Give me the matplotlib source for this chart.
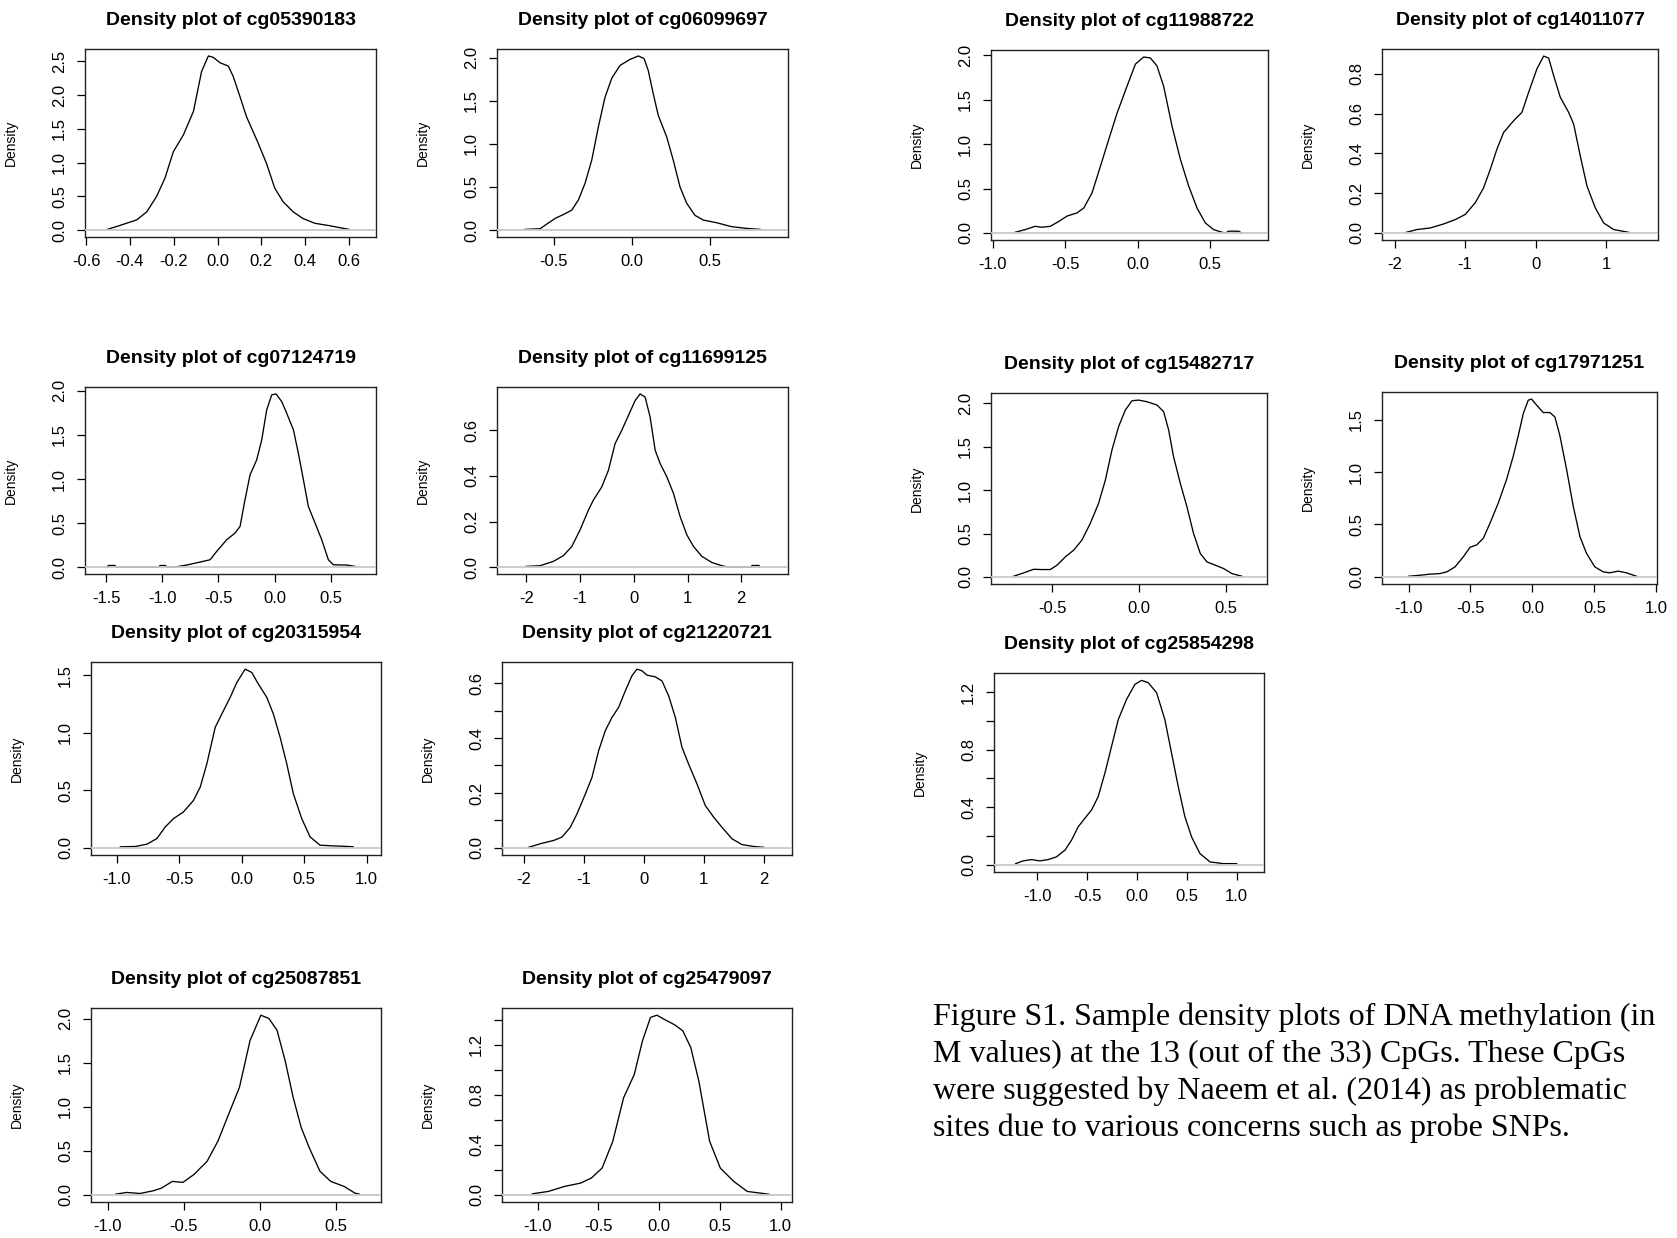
import numpy as np
import matplotlib
matplotlib.use("Agg")
import matplotlib.pyplot as plt

plt.rcParams['font.family'] = ['Liberation Sans', 'DejaVu Sans']

# ---- density curves (x = M value, y = density) ----
cg05390183_x = [-0.503, -0.453, -0.407, -0.369, -0.323, -0.278, -0.24, -0.202, -0.156, -0.110, -0.073, -0.042,
                -0.020, 0.011, 0.049, 0.071, 0.102, 0.132, 0.185, 0.223, 0.261, 0.299, 0.345, 0.390, 0.444,
                0.512, 0.558, 0.6]
cg05390183_y = [0.01, 0.06, 0.11, 0.15, 0.27, 0.50, 0.77, 1.16, 1.41, 1.76, 2.35, 2.58,
                2.56, 2.48, 2.43, 2.28, 1.98, 1.68, 1.29, 0.99, 0.62, 0.42, 0.27, 0.17, 0.10,
                0.064, 0.035, 0.01]

cg06099697_x = [-0.683, -0.587, -0.544, -0.491, -0.438, -0.385, -0.342, -0.300, -0.257, -0.214, -0.172, -0.129,
                -0.076, -0.012, 0.042, 0.078, 0.105, 0.137, 0.169, 0.223, 0.265, 0.308, 0.351, 0.404, 0.457,
                0.542, 0.638, 0.734, 0.82]
cg06099697_y = [0.008, 0.015, 0.07, 0.135, 0.18, 0.23, 0.35, 0.54, 0.81, 1.20, 1.54, 1.76,
                1.91, 1.98, 2.02, 1.99, 1.85, 1.58, 1.33, 1.08, 0.81, 0.50, 0.31, 0.17, 0.116,
                0.085, 0.039, 0.019, 0.008]

cg11988722_x = [-0.844, -0.775, -0.706, -0.660, -0.602, -0.544, -0.487, -0.418, -0.372, -0.315, -0.257, -0.200,
                -0.142, -0.074, -0.016, 0.041, 0.087, 0.133, 0.179, 0.237, 0.294, 0.351, 0.409, 0.466,
                0.523, 0.581, 0.605, 0.627, 0.696, 0.715]
cg11988722_y = [0.008, 0.038, 0.075, 0.064, 0.075, 0.13, 0.19, 0.226, 0.28, 0.45, 0.75, 1.05,
                1.35, 1.65, 1.90, 1.98, 1.97, 1.88, 1.65, 1.20, 0.83, 0.53, 0.28, 0.113,
                0.038, 0.008, 0.0, 0.02, 0.02, 0.0]

cg14011077_x = [-1.834, -1.683, -1.494, -1.305, -1.139, -0.997, -0.855, -0.737, -0.642, -0.548, -0.453, -0.311,
                -0.193, -0.098, 0.020, 0.115, 0.186, 0.257, 0.351, 0.470, 0.541, 0.635, 0.730, 0.848,
                0.967, 1.109, 1.322]
cg14011077_y = [0.003, 0.017, 0.025, 0.045, 0.067, 0.093, 0.152, 0.227, 0.32, 0.421, 0.505, 0.564,
                0.606, 0.707, 0.825, 0.889, 0.879, 0.791, 0.682, 0.606, 0.547, 0.387, 0.236, 0.126,
                0.05, 0.017, 0.003]

cg07124719_x = [-1.49, -1.48, -1.42, -1.41, -1.03, -1.02, -0.97, -0.96,
                -0.871, -0.782, -0.663, -0.574, -0.515, -0.426, -0.352, -0.307, -0.263, -0.218, -0.159, -0.114,
                -0.070, -0.025, 0.013, 0.064, 0.108, 0.168, 0.212, 0.257, 0.301, 0.361, 0.420, 0.479,
                0.524, 0.643, 0.717]
cg07124719_y = [0.0, 0.018, 0.018, 0.0, 0.0, 0.018, 0.018, 0.0,
                0.004, 0.023, 0.057, 0.083, 0.178, 0.31, 0.386, 0.461, 0.764, 1.047, 1.217, 1.444,
                1.784, 1.955, 1.966, 1.879, 1.747, 1.558, 1.293, 0.991, 0.688, 0.499, 0.31, 0.083,
                0.026, 0.023, 0.008]

cg11699125_x = [-2.006, -1.745, -1.497, -1.311, -1.155, -1.0, -0.845, -0.752, -0.596, -0.472, -0.348, -0.224,
                -0.099, 0.025, 0.118, 0.211, 0.304, 0.398, 0.491, 0.615, 0.739, 0.863, 0.988, 1.112,
                1.267, 1.453, 1.64, 1.75, 2.19, 2.2, 2.33, 2.34]
cg11699125_y = [0.003, 0.006, 0.025, 0.05, 0.09, 0.163, 0.25, 0.294, 0.352, 0.425, 0.542, 0.60,
                0.666, 0.731, 0.76, 0.746, 0.658, 0.513, 0.454, 0.396, 0.323, 0.221, 0.141, 0.09,
                0.047, 0.02, 0.006, 0.0, 0.0, 0.007, 0.007, 0.0]

cg15482717_x = [-0.722, -0.665, -0.607, -0.559, -0.511, -0.473, -0.425, -0.377, -0.330, -0.282, -0.234, -0.195,
                -0.157, -0.119, -0.080, -0.042, -0.004, 0.044, 0.102, 0.140, 0.169, 0.197, 0.236, 0.274,
                0.312, 0.351, 0.389, 0.437, 0.485, 0.533, 0.590]
cg15482717_y = [0.008, 0.046, 0.088, 0.085, 0.085, 0.135, 0.231, 0.308, 0.423, 0.615, 0.846, 1.115,
                1.462, 1.731, 1.923, 2.03, 2.038, 2.019, 1.981, 1.904, 1.692, 1.385, 1.077, 0.808,
                0.50, 0.269, 0.173, 0.135, 0.096, 0.038, 0.008]

cg17971251_x = [-1.0, -0.906, -0.826, -0.745, -0.691, -0.624, -0.557, -0.503, -0.45, -0.396, -0.342, -0.275,
                -0.208, -0.154, -0.114, -0.074, -0.034, -0.007, 0.034, 0.087, 0.141, 0.181, 0.221, 0.275,
                0.329, 0.383, 0.436, 0.503, 0.57, 0.624, 0.691, 0.758, 0.839]
cg17971251_y = [0.006, 0.016, 0.026, 0.032, 0.048, 0.096, 0.193, 0.283, 0.305, 0.369, 0.514, 0.707,
                0.932, 1.156, 1.349, 1.558, 1.686, 1.696, 1.638, 1.568, 1.568, 1.526, 1.349, 1.028,
                0.675, 0.385, 0.225, 0.096, 0.048, 0.039, 0.055, 0.039, 0.006]

cg20315954_x = [-0.973, -0.853, -0.76, -0.68, -0.613, -0.547, -0.467, -0.387, -0.333, -0.28, -0.213, -0.147,
                -0.093, -0.04, 0.027, 0.08, 0.133, 0.2, 0.253, 0.307, 0.36, 0.413, 0.48, 0.547,
                0.627, 0.733, 0.813, 0.893]
cg20315954_y = [0.009, 0.012, 0.032, 0.081, 0.182, 0.254, 0.312, 0.412, 0.528, 0.73, 1.047, 1.191,
                1.307, 1.436, 1.552, 1.523, 1.422, 1.307, 1.162, 0.96, 0.73, 0.47, 0.254, 0.095,
                0.023, 0.017, 0.014, 0.009]

cg21220721_x = [-1.922, -1.727, -1.505, -1.366, -1.227, -1.115, -0.976, -0.865, -0.754, -0.643, -0.532, -0.42,
                -0.309, -0.198, -0.114, -0.031, 0.053, 0.192, 0.303, 0.414, 0.526, 0.637, 0.748, 0.887,
                1.026, 1.165, 1.304, 1.471, 1.638, 1.833, 2.0]
cg21220721_y = [0.002, 0.015, 0.027, 0.039, 0.075, 0.124, 0.196, 0.257, 0.354, 0.427, 0.475, 0.512,
                0.572, 0.627, 0.651, 0.645, 0.629, 0.623, 0.608, 0.554, 0.475, 0.366, 0.305, 0.233,
                0.154, 0.112, 0.075, 0.033, 0.012, 0.005, 0.002]

cg25854298_x = [-1.218, -1.144, -1.06, -0.977, -0.893, -0.809, -0.725, -0.658, -0.591, -0.524, -0.457, -0.39,
                -0.323, -0.256, -0.189, -0.106, -0.022, 0.045, 0.112, 0.196, 0.279, 0.346, 0.413, 0.48,
                0.547, 0.631, 0.732, 0.866, 1.0]
cg25854298_y = [0.007, 0.026, 0.035, 0.026, 0.035, 0.054, 0.1, 0.17, 0.263, 0.322, 0.38, 0.473,
                0.636, 0.822, 1.008, 1.148, 1.253, 1.281, 1.265, 1.195, 1.008, 0.776, 0.543, 0.333,
                0.193, 0.077, 0.019, 0.007, 0.007]

cg25087851_x = [-0.947, -0.876, -0.788, -0.7, -0.647, -0.576, -0.506, -0.435, -0.347, -0.276, -0.206, -0.135,
                -0.065, 0.006, 0.059, 0.112, 0.165, 0.218, 0.271, 0.324, 0.394, 0.465, 0.553, 0.624, 0.652]
cg25087851_y = [0.008, 0.027, 0.015, 0.046, 0.076, 0.152, 0.141, 0.229, 0.381, 0.61, 0.914, 1.219,
                1.752, 2.038, 2.0, 1.867, 1.524, 1.105, 0.762, 0.533, 0.267, 0.152, 0.095, 0.019, 0.008]

cg25479097_x = [-1.044, -0.912, -0.779, -0.646, -0.558, -0.469, -0.381, -0.292, -0.204, -0.137, -0.071, -0.018,
                0.04, 0.128, 0.195, 0.261, 0.327, 0.416, 0.504, 0.615, 0.726, 0.903]
cg25479097_y = [0.008, 0.027, 0.067, 0.094, 0.134, 0.214, 0.429, 0.777, 0.964, 1.232, 1.42, 1.438,
                1.406, 1.361, 1.313, 1.179, 0.911, 0.429, 0.214, 0.107, 0.027, 0.005]

# ---- axis settings per CpG ----
cpg_names = ["cg05390183", "cg06099697", "cg11988722", "cg14011077",
             "cg07124719", "cg11699125", "cg15482717", "cg17971251",
             "cg20315954", "cg21220721", "cg25854298",
             "cg25087851", "cg25479097"]
curves = {
    "cg05390183": (cg05390183_x, cg05390183_y), "cg06099697": (cg06099697_x, cg06099697_y),
    "cg11988722": (cg11988722_x, cg11988722_y), "cg14011077": (cg14011077_x, cg14011077_y),
    "cg07124719": (cg07124719_x, cg07124719_y), "cg11699125": (cg11699125_x, cg11699125_y),
    "cg15482717": (cg15482717_x, cg15482717_y), "cg17971251": (cg17971251_x, cg17971251_y),
    "cg20315954": (cg20315954_x, cg20315954_y), "cg21220721": (cg21220721_x, cg21220721_y),
    "cg25854298": (cg25854298_x, cg25854298_y), "cg25087851": (cg25087851_x, cg25087851_y),
    "cg25479097": (cg25479097_x, cg25479097_y),
}
x_limits = [(-0.605, 0.723), (-0.863, 0.999), (-1.011, 0.898), (-2.179, 1.738),
            (-1.687, 0.903), (-2.546, 2.87), (-0.852, 0.734), (-1.214, 1.005),
            (-1.208, 1.115), (-2.367, 2.473), (-1.436, 1.274),
            (-1.11, 0.795), (-1.293, 1.094)]
x_ticks = [[-0.6, -0.4, -0.2, 0.0, 0.2, 0.4, 0.6], [-0.5, 0.0, 0.5], [-1.0, -0.5, 0.0, 0.5], [-2, -1, 0, 1],
           [-1.5, -1.0, -0.5, 0.0, 0.5], [-2, -1, 0, 1, 2], [-0.5, 0.0, 0.5], [-1.0, -0.5, 0.0, 0.5, 1.0],
           [-1.0, -0.5, 0.0, 0.5, 1.0], [-2, -1, 0, 1, 2], [-1.0, -0.5, 0.0, 0.5, 1.0],
           [-1.0, -0.5, 0.0, 0.5], [-1.0, -0.5, 0.0, 0.5, 1.0]]
x_int_labels = [False, False, False, True, False, True, False, False, False, True, False, False, False]
y_ticks = [[0, 0.5, 1.0, 1.5, 2.0, 2.5], [0, 0.5, 1.0, 1.5, 2.0], [0, 0.5, 1.0, 1.5, 2.0], [0, 0.2, 0.4, 0.6, 0.8],
           [0, 0.5, 1.0, 1.5, 2.0], [0, 0.2, 0.4, 0.6], [0, 0.5, 1.0, 1.5, 2.0], [0, 0.5, 1.0, 1.5],
           [0, 0.5, 1.0, 1.5], [0, 0.1, 0.2, 0.3, 0.4, 0.5, 0.6], [0, 0.2, 0.4, 0.6, 0.8, 1.0, 1.2],
           [0, 0.5, 1.0, 1.5, 2.0], [0, 0.2, 0.4, 0.6, 0.8, 1.0, 1.2, 1.4]]
y_label_every = [1, 1, 1, 1, 1, 1, 1, 1, 1, 2, 2, 1, 2]

caption_lines = ["Figure S1. Sample density plots of DNA methylation (in",
                 "M values) at the 13 (out of the 33) CpGs. These CpGs",
                 "were suggested by Naeem et al. (2014) as problematic",
                 "sites due to various concerns such as probe SNPs."]

# ---- layout: plot boxes in pixels (left, top, right, bottom) ----
W, H = 1677, 1238
boxes = [(85, 49, 376, 237), (497, 49, 788, 237), (991, 50, 1268, 240), (1382, 49, 1658, 240),
         (85, 387, 376, 574), (497, 387, 788, 574), (991, 393, 1267, 584), (1382, 392, 1657, 584),
         (91, 662, 381, 855), (502, 662, 792, 855), (994, 673, 1264, 872),
         (91, 1008, 381, 1202), (502, 1008, 792, 1202)]

fig = plt.figure(figsize=(W / 100, H / 100), dpi=100)

for i, name in enumerate(cpg_names):
    l, t, r, b = boxes[i]
    ax = fig.add_axes([l / W, 1 - b / H, (r - l) / W, (b - t) / H])
    xs, ys = curves[name]
    ax.plot(xs, ys, color='black', lw=0.95, zorder=2, solid_joinstyle='round')
    ax.axhline(0, color='#c8c8c8', lw=1.3, zorder=3)
    ymax = max(ys)
    ax.set_xlim(*x_limits[i])
    ax.set_ylim(-0.04 * ymax, 1.04 * ymax)

    ax.set_xticks(x_ticks[i])
    if x_int_labels[i]:
        ax.set_xticklabels([f"{int(v)}" for v in x_ticks[i]])
    else:
        ax.set_xticklabels([f"{v:.1f}" for v in x_ticks[i]])
    ax.set_yticks(y_ticks[i])
    ax.set_yticklabels([f"{v:.1f}" if k % y_label_every[i] == 0 else "" for k, v in enumerate(y_ticks[i])])
    ax.tick_params(axis='both', direction='out', length=6, width=0.9, labelsize=12, colors='black')
    ax.tick_params(axis='x', pad=6)
    ax.tick_params(axis='y', pad=7, labelrotation=90)
    for lbl in ax.get_yticklabels():
        lbl.set_va('center')

    for sp in ax.spines.values():
        sp.set_linewidth(1.0)
        sp.set_color('#222222')

    ax.set_title(f"Density plot of {name}", fontsize=14, fontweight='bold', pad=17)
    ax.set_ylabel("Density", fontsize=10)
    ax.yaxis.set_label_coords(-67 / (r - l), 0.5)

for k, line in enumerate(caption_lines):
    fig.text(933 / W, 1 - (1017 + k * 37.2) / H, line, fontsize=23,
             family=['Liberation Serif', 'DejaVu Serif'], va='center', ha='left')

fig.savefig("out.png", dpi=100)
